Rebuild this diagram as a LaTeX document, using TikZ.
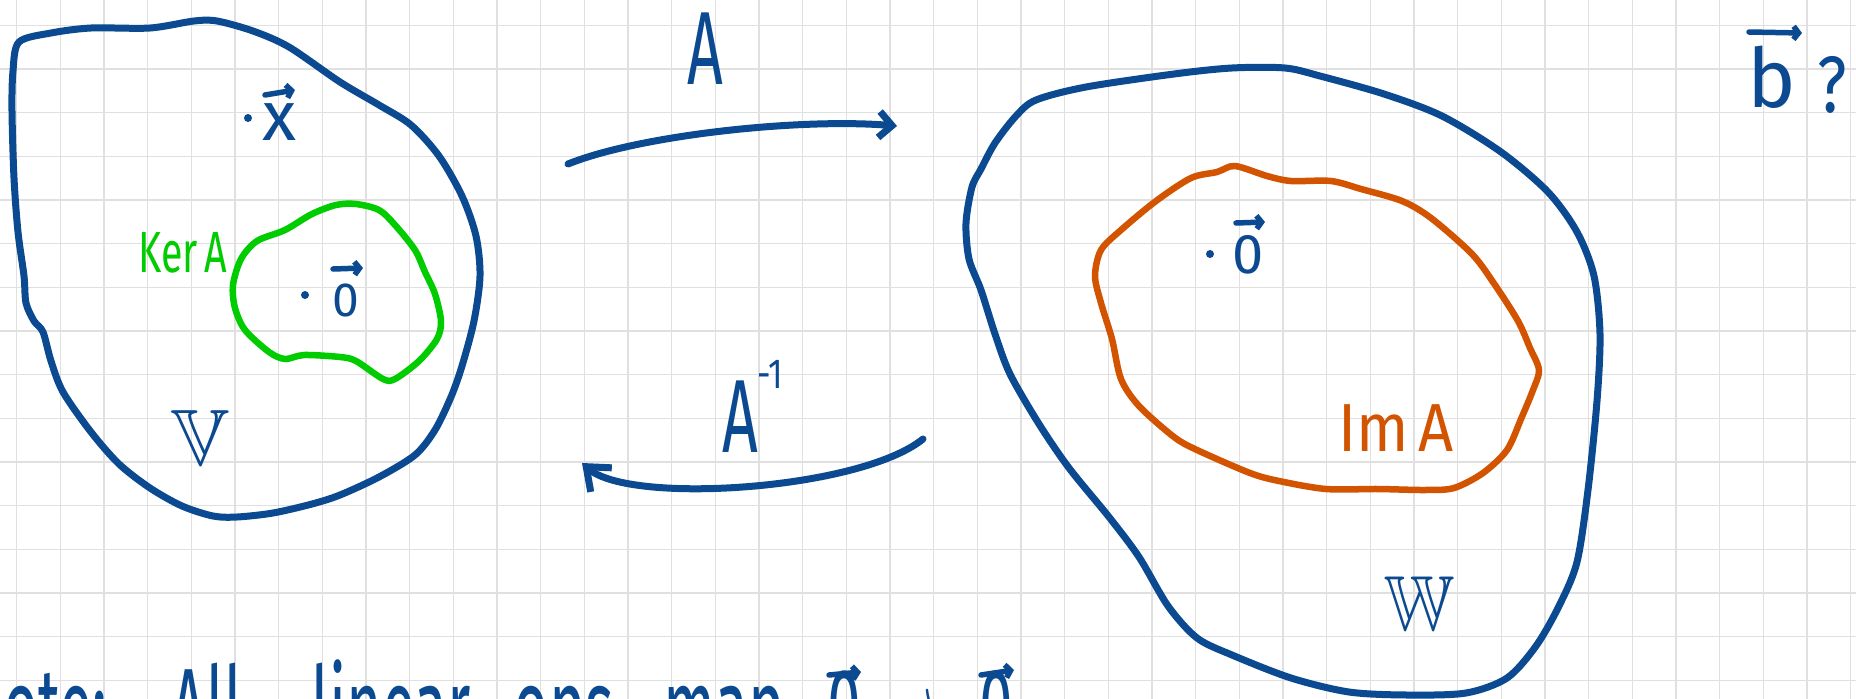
\RequirePackage{fix-cm}
\documentclass[tikz,border=0pt]{standalone}
\usepackage{fontspec}
\setmainfont{Fira Sans}
\usepackage{amssymb}
\usepackage{graphicx}
\usetikzlibrary{arrows.meta}
\definecolor{ink}{RGB}{11,73,145}
\definecolor{kgreen}{RGB}{0,204,0}
\definecolor{iorange}{RGB}{211,84,0}
\definecolor{gridc}{RGB}{224,224,224}
\newcommand{\hs}[2]{\scalebox{#1}[1]{#2}}
\newcommand{\fsz}[1]{\fontsize{#1}{#1}\selectfont}
\newcommand{\wbox}[2]{\makebox[#1][l]{\hs{0.55}{#2}}}
\begin{document}
\begin{tikzpicture}[x=1pt,y=-1pt,
  pen/.style={line width=7pt, line cap=round, line join=round},
  lbl/.style={inner sep=0pt, outer sep=0pt, text=ink},
  dotn/.style={circle, fill=ink, inner sep=0pt, minimum size=8pt},
  vecarrow/.style={ink, line width=5.5pt, line cap=round, -{Straight Barb[length=5pt,width=13pt]}},
  gridline/.style={gridc, line width=1.3pt}]
\useasboundingbox (0,0) rectangle (1856,699);
\clip (0,0) rectangle (1856,699);
\fill[white] (0,0) rectangle (1856,699);
% grid paper
\foreach \i in {0,...,42} \draw[gridline] ({16.6+43.67*\i},0) -- ++(0,699);
\foreach \j in {0,...,15} \draw[gridline] (0,{25.3+43.67*\j}) -- ++(1856,0);

% domain V
\draw[pen, ink] plot[smooth cycle, tension=0.5] coordinates {
(19,42) (51,33) (91,28) (150,28) (194,21) (217,21) (253,31) (289,47) (340,82) (379,105) (411,125) (439,156) (462,196) (476,236) (480,276) (474,321) (462,366) (451,397) (435,430) (415,455) (379,477) (340,495) (312,504) (273,513) (237,517) (213,516) (182,506) (150,488) (119,464) (91,432) (63,392) (51,361) (43,332) (34,321) (26,303) (24,276) (18,232) (14,178) (12,111) (13,71)};
% kernel
\draw[pen, kgreen, line width=6.5pt] plot[smooth cycle, tension=0.5] coordinates {
(257,241) (285,230) (312,214) (336,205) (356,204) (379,210) (395,225) (415,250) (425,272) (435,294) (441,321) (437,339) (419,361) (395,379) (383,379) (356,361) (340,357) (304,355) (285,359) (269,352) (245,330) (235,308) (233,285) (241,259)};
% codomain W
\draw[pen, ink] plot[smooth cycle, tension=0.5] coordinates {
(1036,100) (1086,87) (1174,74) (1232,68) (1285,68) (1320,76) (1384,94) (1442,116) (1501,152) (1548,192) (1577,232) (1594,276) (1600,334) (1597,401) (1588,490) (1577,562) (1559,606) (1536,646) (1507,678) (1466,693) (1407,695) (1349,692) (1291,678) (1232,655) (1197,638) (1168,606) (1139,557) (1109,517) (1069,468) (1039,424) (1010,374) (995,334) (981,290) (969,259) (966,223) (972,187) (981,169) (995,143) (1016,116)};
% image
\draw[pen, iorange, line width=6.5pt] plot[smooth cycle, tension=0.5] coordinates {
(1235,166) (1267,176) (1291,181) (1331,181) (1361,189) (1402,201) (1431,218) (1472,254) (1495,285) (1518,321) (1530,348) (1539,370) (1533,390) (1521,419) (1507,450) (1483,473) (1454,488) (1425,490) (1378,489) (1326,489) (1279,481) (1250,473) (1197,450) (1174,437) (1139,406) (1121,379) (1112,339) (1101,303) (1095,276) (1101,250) (1121,230) (1156,201) (1191,178) (1217,172)};

% labels in V
\node[dotn] (dx) at (248,118) {};
\node[lbl, anchor=base] (vx) at (279,140) {\fsz{70}x};
\draw[vecarrow] (265,95) -- (295,90);
\node[dotn] (d0l) at (305,295) {};
\node[lbl, anchor=base] (v0l) at (346,316) {\fsz{48}0};
\draw[vecarrow] (333,269) -- (363,268);
\node[lbl, text=kgreen] (ker) at (183,253) {\fsz{58}\hs{0.68}{Ker\,A}};
\node[lbl] (V) at (200,438) {\fsz{80}$\mathbb{V}$};

% labels in W
\node[dotn] (d0r) at (1210,254) {};
\node[lbl, anchor=base] (v0r) at (1248,273) {\fsz{56}0};
\draw[vecarrow] (1236,223) -- (1265,222);
\node[lbl, text=iorange] (im) at (1396,428) {\fsz{68}\hs{0.9}{Im\,A}};
\node[lbl] (W) at (1420,604) {\fsz{78}\hs{0.9}{$\mathbb{W}$}};

% b ?
\node[lbl, anchor=base] (vb) at (1772,107) {\fsz{82}b};
\draw[vecarrow] (1749,32) -- (1802,33);
\node[lbl] (q) at (1832,85) {\fsz{80}\hs{0.8}{?}};

% map labels
\node[lbl] (labA) at (705,49) {\fsz{104}\hs{0.6}{A}};
\node[lbl, anchor=base west] (labAinv) at (722,452) {\fsz{104}\hs{0.6}{A}\raisebox{64pt}{\fsz{42}\hs{0.8}{-1}}};

% arrows
\coordinate (a1s) at (568,164);
\coordinate (a1e) at (897,126);
\draw[pen, ink, -{Straight Barb[length=13pt,width=26pt]}] (a1s) .. controls (640,135) and (800,118) .. (a1e);
\coordinate (a2s) at (923,439);
\coordinate (a2e) at (582,463);
\draw[pen, ink, -{Straight Barb[length=20pt,width=32pt]}] (a2s) .. controls (860,490) and (630,505) .. (a2e);

% note at the bottom (cut off by the page edge)
\node[lbl, anchor=base west] (note) at (-38,745) {\fsz{110}\wbox{210pt}{Note:}\wbox{140pt}{All}\wbox{202pt}{linear}\wbox{150pt}{ops}\wbox{164pt}{map}\wbox{57pt}{0}\wbox{95pt}{$\rightarrow$}\hs{0.55}{0}};
\draw[vecarrow] (829,675) -- (861,672);
\draw[vecarrow] (981,675) -- (1014,670);
\end{tikzpicture}
\end{document}
